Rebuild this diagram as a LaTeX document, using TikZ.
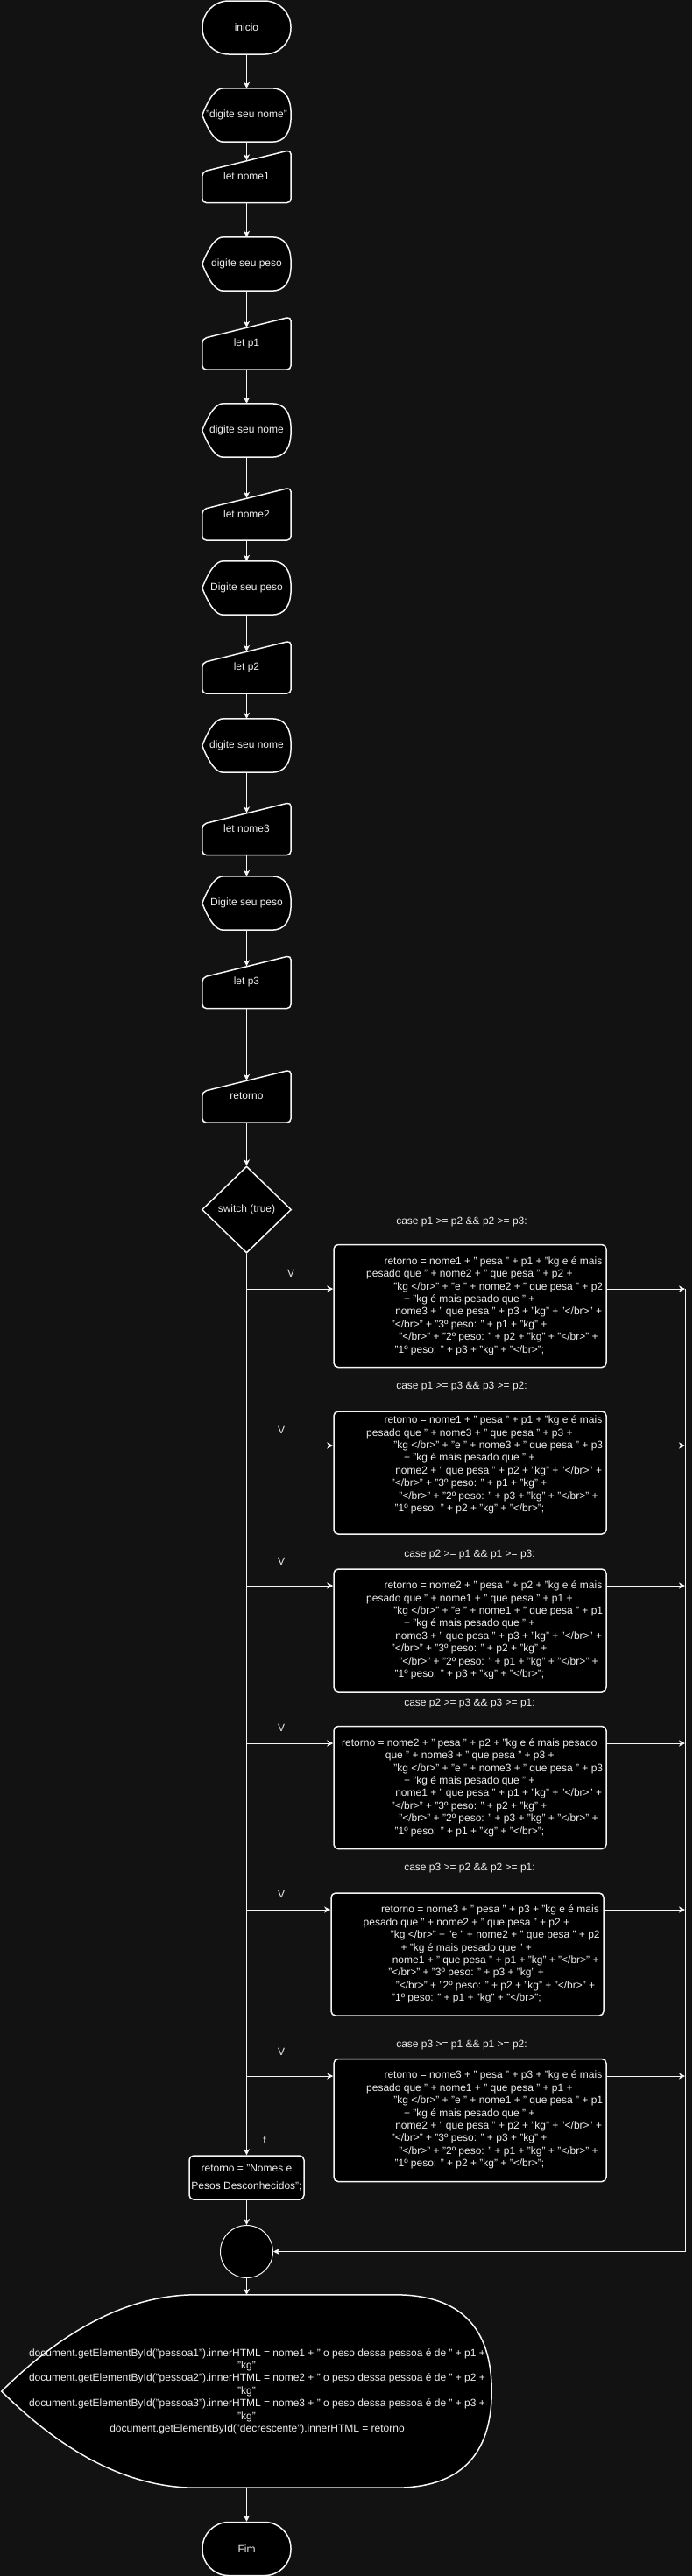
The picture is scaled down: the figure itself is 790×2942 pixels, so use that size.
\documentclass[tikz,border=0pt]{standalone}
\usepackage{fontspec}
\setmainfont{Liberation Sans}
\usepackage{tikz}
\usetikzlibrary{shapes.geometric, arrows.meta, positioning, calc}

\definecolor{fond}{RGB}{18,18,18}
\definecolor{trait}{RGB}{245,245,245}
\definecolor{texte}{RGB}{238,238,238}

\pgfdeclarelayer{fondlayer}
\pgfdeclarelayer{formes}
\pgfsetlayers{fondlayer,formes,main}

% forme "display" autour d'un noeud
\newcommand{\affichage}[3]{%
  \begin{pgfonlayer}{formes}
  \draw[forme] (#1.west)
    .. controls ($(#1.north west)!0.3333!(#1.west)+(#2/3,0)$) and ($(#1.north west)+(2*#2/3,0)$) .. ($(#1.north west)+(#2,0)$)
    -- ($(#1.north east)+(-#3,0)$)
    .. controls ($(#1.north east)+(-#3/3,0)$) and ($(#1.north east)!0.3333!(#1.east)$) .. (#1.east)
    .. controls ($(#1.south east)!0.3333!(#1.east)$) and ($(#1.south east)+(-#3/3,0)$) .. ($(#1.south east)+(-#3,0)$)
    -- ($(#1.south west)+(#2,0)$)
    .. controls ($(#1.south west)+(2*#2/3,0)$) and ($(#1.south west)!0.3333!(#1.west)+(#2/3,0)$) .. (#1.west) -- cycle;
  \end{pgfonlayer}}

% forme "manual input" autour d'un noeud
\newcommand{\saisie}[1]{%
  \begin{pgfonlayer}{formes}
  \draw[forme, rounded corners=5pt] ($(#1.north west)+(0,25)$) -- (#1.north east) -- (#1.south east) -- (#1.south west) -- cycle;
  \end{pgfonlayer}}

% textes des cas
\newcommand{\corpsA}[3]{%
\hspace*{20.3pt}retorno = nome#1 + " pesa " + p#1 + "kg e é mais\\
pesado que " + nome#2 + " que pesa " + p#2 +\\
\hspace*{31.2pt}"kg </br>" + "e " + nome#2 + " que pesa " + p#2\\
\hspace*{42.9pt}+ "kg é mais pesado que " +\\
\hspace*{33.1pt}nome#3 + " que pesa " + p#3 + "kg" + "</br>" +\\
\hspace*{28.6pt}"</br>" + "3º peso: " + p#1 + "kg" +\\
\hspace*{37.2pt}"</br>" + "2º peso: " + p#2 + "kg" + "</br>" +\\
\hspace*{32.4pt}"1º peso: " + p#3 + "kg" + "</br>";}

\newcommand{\corpsB}[3]{%
retorno = nome#1 + " pesa " + p#1 + "kg e é mais pesado\\
\hspace*{49.7pt}que " + nome#2 + " que pesa " + p#2 +\\
\hspace*{59.2pt}"kg </br>" + "e " + nome#2 + " que pesa " + p#2\\
\hspace*{70.9pt}+ "kg é mais pesado que " +\\
\hspace*{61.1pt}nome#3 + " que pesa " + p#3 + "kg" + "</br>" +\\
\hspace*{56.6pt}"</br>" + "3º peso: " + p#1 + "kg" +\\
\hspace*{65.2pt}"</br>" + "2º peso: " + p#2 + "kg" + "</br>" +\\
\hspace*{60.4pt}"1º peso: " + p#3 + "kg" + "</br>";}

\begin{document}
\begin{tikzpicture}[x=1pt, y=-1pt, >={Stealth[length=7pt,width=7pt,inset=2pt]},
    every node/.style={text=texte, font=\fontsize{12}{14.4}\selectfont},
    forme/.style={draw=trait, line width=1.5pt, fill=black},
    term/.style={draw=trait, line width=1.5pt, fill=black, rounded corners=30pt, minimum width=101pt, minimum height=61pt, inner sep=0pt},
    disp/.style={minimum width=101pt, minimum height=61pt, inner sep=0pt},
    entree/.style={minimum width=101pt, minimum height=60pt, inner sep=0pt},
    cas/.style={draw=trait, line width=1.5pt, fill=black, rounded corners=5pt, minimum width=311pt, minimum height=140pt, inner sep=0pt},
    bloc/.style={align=left, inner sep=0pt, anchor=west},
    fleche/.style={draw=trait, line width=1pt, ->}]
    \useasboundingbox (0,0) rectangle (790,2942);
    \begin{pgfonlayer}{fondlayer}
        \fill[fond] (0,0) rectangle (790,2942);
    \end{pgfonlayer}

    % Debut et saisies
    \node[term] (ini) at (281.5,31.5) {inicio};
    \node[disp] (d1) at (281.5,131.5) {"digite seu nome"};
    \node[entree] (m1) at (281.5,201.5) {let nome1};
    \node[disp] (d2) at (281.5,301.5) {digite seu peso};
    \node[entree] (m2) at (281.5,392) {let p1};
    \node[disp] (d3) at (281.5,491.5) {digite seu nome};
    \node[entree] (m3) at (281.5,587) {let nome2};
    \node[disp] (d4) at (281.5,671.5) {Digite seu peso};
    \node[entree] (m4) at (281.5,762) {let p2};
    \node[disp] (d5) at (281.5,851.5) {digite seu nome};
    \node[entree] (m5) at (281.5,946.5) {let nome3};
    \node[disp] (d6) at (281.5,1031.5) {Digite seu peso};
    \node[entree] (m6) at (281.5,1121.5) {let p3};
    \node[entree] (m7) at (281.5,1252) {retorno};

    \foreach \n in {d1,d2,d3,d4,d5,d6} {\affichage{\n}{24}{22}}
    \foreach \n in {m1,m2,m3,m4,m5,m6,m7} {\saisie{\n}}

    \foreach \a/\b in {ini/d1, m1/d2, m2/d3, m3/d4, m4/d5, m5/d6}
        \draw[fleche] (\a) -- (\b);
    \foreach \a/\b in {d1/m1, d2/m2, d3/m3, d4/m4, d5/m5, d6/m6, m6/m7}
        \draw[fleche] (\a) -- ($(\b.north)+(0,12)$);

    % Switch
    \node[diamond, draw=trait, line width=1.5pt, fill=black, minimum width=102pt, minimum height=99pt, inner sep=0pt] (sw) at (281.5,1381.5) {switch (true)};
    \draw[fleche] (m7) -- (sw);

    % Cas
    \node[cas] (b1) at (536.5,1491.5) {};
    \node[cas] (b2) at (536.5,1682) {};
    \node[cas] (b3) at (536.5,1862) {};
    \node[cas] (b4) at (536.5,2041.5) {};
    \node[cas] (b5) at (533.5,2232) {};
    \node[cas] (b6) at (536.5,2421.5) {};

    \node[bloc] (t1) at (418,1491.5) {\corpsA{1}{2}{3}};
    \node[bloc] (t2) at (418,1673) {\corpsA{1}{3}{2}};
    \node[bloc] (t3) at (418,1862) {\corpsA{2}{1}{3}};
    \node[bloc] (t4) at (390,2041.5) {\corpsB{2}{3}{1}};
    \node[bloc] (t5) at (414.5,2232) {\corpsA{3}{2}{1}};
    \node[bloc] (t6) at (418,2421) {\corpsA{3}{1}{2}};

    \node (c1) at (527,1396) {case p1 >= p2 \&\& p2 >= p3:};
    \node (c2) at (527,1584) {case p1 >= p3 \&\& p3 >= p2:};
    \node (c3) at (536,1776) {case p2 >= p1 \&\& p1 >= p3:};
    \node (c4) at (536,1946) {case p2 >= p3 \&\& p3 >= p1:};
    \node (c5) at (536,2134) {case p3 >= p2 \&\& p2 >= p1:};
    \node (c6) at (527,2336) {case p3 >= p1 \&\& p1 >= p2:};

    \node (v1) at (332,1454) {V};
    \node (v2) at (321,1633) {V};
    \node (v3) at (321,1783) {V};
    \node (v4) at (321,1973) {V};
    \node (v5) at (321,2163) {V};
    \node (v6) at (321,2343) {V};

    % Branches
    \foreach \i/\y in {1/1472, 2/1651, 3/1811, 4/1991, 5/2181, 6/2371} {
        \coordinate (j\i) at (281.5,\y);
        \coordinate (k\i) at (782,\y);
        \draw[fleche] (j\i) -- (j\i -| b\i.west);
        \draw[fleche] (j\i -| b\i.east) -- (k\i);
    }

    % Defaut
    \node[draw=trait, line width=1.5pt, fill=black, rounded corners=5pt, minimum width=131pt, minimum height=50pt, inner sep=0pt, align=center, font=\fontsize{12}{20.7}\selectfont] (nf) at (281.5,2487) {retorno = "Nomes e\\Pesos Desconhecidos";};
    \node (f) at (302,2444) {f};
    \draw[fleche] (sw) -- (nf);

    % Fin
    \node[circle, draw=trait, line width=1pt, fill=black, minimum size=60pt, inner sep=0pt] (rond) at (281.5,2571.5) {};
    \coordinate (coin) at (782,2571.5);
    \draw[trait, line width=1pt] (k1) -- (coin);
    \draw[fleche] (coin) -- (rond);
    \draw[fleche] (nf) -- (rond);

    \node[disp, minimum width=559pt, minimum height=220pt, align=center] (aff) at (281.5,2731) {\hspace*{24pt}document.getElementById("pessoa1").innerHTML = nome1 + " o peso dessa pessoa é de " + p1 +\\"kg"\\\hspace*{24pt}document.getElementById("pessoa2").innerHTML = nome2 + " o peso dessa pessoa é de " + p2 +\\"kg"\\\hspace*{24pt}document.getElementById("pessoa3").innerHTML = nome3 + " o peso dessa pessoa é de " + p3 +\\"kg"\\\hspace*{24pt}document.getElementById("decrescente").innerHTML = retorno};
    \affichage{aff}{222}{110}
    \draw[fleche] (rond) -- (aff);

    \node[term] (fim) at (281.5,2911) {Fim};
    \draw[fleche] (aff) -- (fim);
\end{tikzpicture}
\end{document}
